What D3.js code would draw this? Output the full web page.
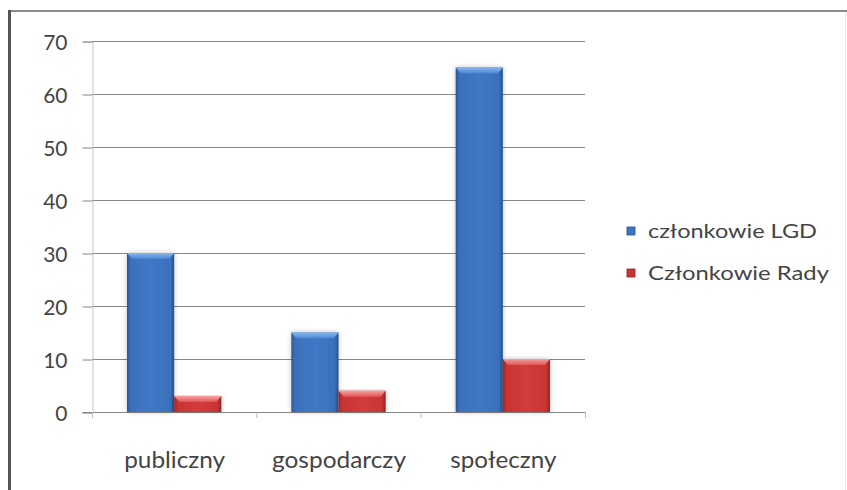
<!DOCTYPE html>
<html><head><meta charset="utf-8">
<script src="https://cdn.jsdelivr.net/npm/d3@7"></script>
<style>html,body{margin:0;padding:0;background:#fff;}svg{display:block;}</style>
</head><body>
<script>
const categories = ["publiczny", "gospodarczy", "społeczny"];
const seriesNames = ["członkowie LGD", "Członkowie Rady"];
const lgdValues = [30, 15, 65];
const radaValues = [3, 4, 10];
const yTicks = [0, 10, 20, 30, 40, 50, 60, 70];

(function () {
const W = 847, H = 490;
const svg = d3.select("body").append("svg").attr("width", W).attr("height", H);
const defs = svg.append("defs");

function grad(id, stops, horiz) {
  const g = defs.append("linearGradient").attr("id", id)
    .attr("x1", 0).attr("y1", 0).attr("x2", horiz ? 1 : 0).attr("y2", horiz ? 0 : 1);
  stops.forEach(s => g.append("stop").attr("offset", s[0]).attr("stop-color", s[1]));
}
grad("gBlue", [[0, "#2b5796"], [0.08, "#3a70bb"], [0.5, "#3f79c6"], [0.92, "#3a70bb"], [1, "#264f8a"]], true);
grad("gRed", [[0, "#9e2525"], [0.08, "#c83434"], [0.5, "#d43c3c"], [0.92, "#c83434"], [1, "#962222"]], true);
grad("gBlueTop", [[0, "#86b8f0"], [1, "#4a86d2"]], false);
grad("gRedTop", [[0, "#f4a0a0"], [1, "#e05555"]], false);
const f = defs.append("filter").attr("id", "sh").attr("x", "-20%").attr("y", "-5%").attr("width", "140%").attr("height", "115%");
f.append("feGaussianBlur").attr("in", "SourceAlpha").attr("stdDeviation", 2.5).attr("result", "b");
f.append("feComponentTransfer").attr("in", "b").attr("result", "o2")
  .append("feFuncA").attr("type", "linear").attr("slope", 0.25);
const fm = f.append("feMerge");
fm.append("feMergeNode").attr("in", "o2");
fm.append("feMergeNode").attr("in", "SourceGraphic");

// frame
svg.append("line").attr("x1", 9).attr("x2", 847).attr("y1", 11).attr("y2", 11).attr("stroke", "#8a8a8a").attr("stroke-width", 2);
svg.append("line").attr("x1", 9.5).attr("x2", 9.5).attr("y1", 10).attr("y2", H).attr("stroke", "#555").attr("stroke-width", 3);
svg.append("line").attr("x1", 845.5).attr("x2", 845.5).attr("y1", 12).attr("y2", H).attr("stroke", "#e6e6e6").attr("stroke-width", 1);

const pLeft = 92, pRight = 585, pTop = 41, pBottom = 412;
const y = d3.scaleLinear().domain([0, 70]).range([pBottom, pTop]);
const x0 = d3.scaleBand().domain(categories).range([pLeft, pRight]).padding(0);
const bw = x0.bandwidth();
const x1 = d3.scaleBand().domain(seriesNames).range([bw * 0.213, bw * 0.787]).padding(0);

const font = "Lato, 'Open Sans', sans-serif";

// gridlines
svg.append("g").selectAll("line").data(yTicks.filter(t => t > 0)).join("line")
  .attr("x1", pLeft).attr("x2", pRight)
  .attr("y1", d => Math.round(y(d)) + 0.5).attr("y2", d => Math.round(y(d)) + 0.5)
  .attr("stroke", "#868686").attr("stroke-width", 1);

// y axis
const yAxis = d3.axisLeft(y).tickValues(yTicks).tickSize(10).tickPadding(15);
const gy = svg.append("g").attr("transform", `translate(${pLeft + 0.5},0.5)`).call(yAxis);
gy.select(".domain").attr("stroke", "#c4c4c4");
gy.selectAll(".tick line").attr("stroke", "#868686");
gy.selectAll(".tick text").attr("font-family", font).attr("font-size", 21).attr("fill", "#444").attr("dy", "0.36em");

// x axis
const gx = svg.append("g").attr("transform", `translate(0.5,${pBottom + 0.5})`)
  .call(d3.axisBottom(x0).tickSize(0).tickPadding(38));
gx.select(".domain").attr("d", `M${pLeft - 10},0H${pRight}`).attr("stroke", "#868686");
gx.selectAll(".tick text").attr("font-family", font).attr("font-size", 24).attr("fill", "#444");
const labelW = {"publiczny": 101, "gospodarczy": 134, "społeczny": 106};
gx.selectAll(".tick text").attr("textLength", d => labelW[d]).attr("lengthAdjust", "spacingAndGlyphs");
// category separators
svg.append("g").selectAll("line").data(d3.range(categories.length + 1)).join("line")
  .attr("x1", i => pLeft + i * bw + 0.5).attr("x2", i => pLeft + i * bw + 0.5)
  .attr("y1", pBottom).attr("y2", pBottom + 6).attr("stroke", "#bdbdbd");

// bars
const data = categories.map((c, i) => ({cat: c, vals: [lgdValues[i], radaValues[i]]}));
const gBars = svg.append("g");
data.forEach(d => {
  d.vals.forEach((v, j) => {
    const s = seriesNames[j];
    const bx = x0(d.cat) + x1(s), bwid = x1.bandwidth();
    const by = y(v), bh = y(0) - y(v);
    const g = gBars.append("g").attr("filter", "url(#sh)");
    g.append("rect").attr("x", bx).attr("y", by).attr("width", bwid).attr("height", bh)
      .attr("fill", j === 0 ? "url(#gBlue)" : "url(#gRed)");
    const bev = Math.min(6, bh / 2);
    g.append("path")
      .attr("d", `M${bx},${by}H${bx + bwid}L${bx + bwid - 5},${by + bev}H${bx + 5}Z`)
      .attr("fill", j === 0 ? "url(#gBlueTop)" : "url(#gRedTop)");
  });
});

// legend
const legendColors = ["#3b74c2", "#c93434"];
const legendY = [238, 280];
const legendW = [169, 181];
const lg = svg.append("g");
seriesNames.forEach((s, i) => {
  lg.append("rect").attr("x", 627).attr("y", legendY[i] - 11).attr("width", 8).attr("height", 8)
    .attr("fill", legendColors[i]).attr("stroke", i === 0 ? "#27508c" : "#8e2020").attr("stroke-width", 0.8);
  lg.append("text").attr("x", 648).attr("y", legendY[i]).text(s)
    .attr("font-family", font).attr("font-size", 20).attr("fill", "#444")
    .attr("textLength", legendW[i]).attr("lengthAdjust", "spacingAndGlyphs");
});
})();
</script>
</body></html>
